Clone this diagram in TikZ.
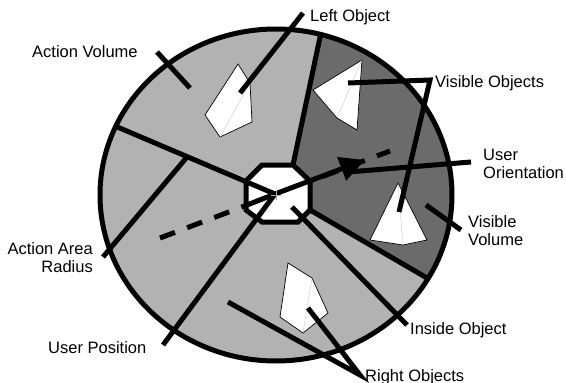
\documentclass[tikz,border=0pt]{standalone}
\usepackage{fontspec}
\setmainfont{Liberation Sans}
\usetikzlibrary{arrows.meta}
\definecolor{lightsec}{gray}{0.70}
\definecolor{darksec}{gray}{0.42}
\begin{document}
\begin{tikzpicture}[x=1pt,y=-1pt,
  thickline/.style={line width=5pt},
  objshape/.style={fill=white,draw=black,line width=0.7pt,line join=miter},
  objedge/.style={draw=black!22,line width=0.4pt},
  lbl/.style={font=\fontsize{16.5}{18}\selectfont,inner sep=0pt}]
\useasboundingbox (0,0) rectangle (566,383);
% key points
\coordinate (C) at (275,194);
\coordinate (Ec) at (276,195);
% octagon corners
\coordinate (O1) at (262,165);
\coordinate (O2) at (293,165);
\coordinate (O3) at (310,181);
\coordinate (O4) at (310,210);
\coordinate (O5) at (298,222);
\coordinate (O6) at (262,222);
\coordinate (O7) at (246,210);
\coordinate (O8) at (246,181);
% sector boundary ends on the ellipse
\coordinate (Aend) at (320.5,35);
\coordinate (Bend) at (115,126);
\coordinate (Eend) at (427,278);
% sectors
\begin{scope}
  \clip (Ec) ellipse [x radius=176pt, y radius=166pt];
  \fill[lightsec] (0,0) rectangle (566,383);
  \fill[darksec] (O2) -- (330,-10) -- (520,-10) -- (520,332) -- (O4) -- cycle;
\end{scope}
% objects
\draw[objshape] (238,64) coordinate (L1) -- (250,83) coordinate (L2) -- (252,122) -- (220,137) coordinate (L4) -- (205,115) -- cycle;
\draw[objedge] (L2) -- (L4);
\draw[objshape] (362,60) coordinate (T1) -- (357,130) -- (337,118) coordinate (T3) -- (313,90) -- cycle;
\draw[objedge] (T1) -- (T3);
\draw[objshape] (398,183) coordinate (R1) -- (370,240) -- (403,245) coordinate (R3) -- (427,240) -- cycle;
\draw[objedge] (R1) -- (R3);
\draw[objshape] (288,263) -- (312,278) coordinate (B2) -- (328,313) -- (303,333) coordinate (B4) -- (280,317) -- cycle;
\draw[objedge] (B2) -- (B4);
% sector lines
\draw[thickline] (O2) -- (Aend);
\draw[thickline] (O4) -- (Eend);
% ellipse outline
\draw[thickline] (Ec) ellipse [x radius=176pt, y radius=166pt];
% dashed radius line
\coordinate (D1) at (160,238);
\coordinate (D2) at (390,151);
\draw[thickline,dash pattern=on 16pt off 13pt] (D1) -- (D2);
% octagon
\draw[thickline,fill=white,line join=miter] (O1) -- (O2) -- (O3) -- (O4) -- (O5) -- (O6) -- (O7) -- (O8) -- cycle;
% lines meeting at the centre
\draw[thickline] (Bend) -- (C);
\coordinate (DO) at (247,205);
\draw[thickline] (DO) -- (C);
\coordinate (UP) at (163,345);
\draw[thickline] (C) -- (UP);
\coordinate (Tip) at (365,160);
\draw[thickline,-{Triangle[length=25pt,width=24pt]}] (C) -- (Tip);
% labels
\node[lbl,anchor=base west] (lAV) at (32,57) {Action Volume};
\node[lbl,anchor=base west] (lLO) at (310,21) {Left Object};
\node[lbl,anchor=base west] (lVO) at (435,87) {Visible Objects};
\node[lbl,anchor=base west,align=left] (lUO) at (483,178) {User\\Orientation};
\node[lbl,anchor=base west,align=left] (lVV) at (468,245) {Visible\\Volume};
\node[lbl,anchor=base west] (lIO) at (410,334) {Inside Object};
\node[lbl,anchor=base west] (lRO) at (365,381) {Right Objects};
\node[lbl,anchor=base west] (lUP) at (48,353) {User Position};
\node[lbl,anchor=base east,align=right] (lAR) at (93,272) {Action Area\\Radius};
% pointers
\coordinate (pAV1) at (157,52);
\coordinate (pAV2) at (190,88);
\draw[thickline] (pAV1) -- (pAV2);
\coordinate (pLO1) at (240,93);
\coordinate (pLO2) at (303,13);
\draw[thickline] (pLO1) -- (pLO2);
\coordinate (pVO1) at (348,83);
\coordinate (pVO2) at (430,80);
\coordinate (pVO3) at (399,212);
\draw[thickline,line join=miter] (pVO1) -- (pVO2) -- (pVO3);
\coordinate (pUO1) at (348,172);
\coordinate (pUO2) at (471,162);
\draw[thickline] (pUO1) -- (pUO2);
\coordinate (pVV1) at (426,205);
\coordinate (pVV2) at (461,230);
\draw[thickline] (pVV1) -- (pVV2);
\coordinate (pIO1) at (292,207);
\coordinate (pIO2) at (407,325);
\draw[thickline] (pIO1) -- (pIO2);
\coordinate (pRO1) at (228,302);
\coordinate (pRO2) at (360,375);
\coordinate (pRO3) at (308,308);
\draw[thickline,line join=miter] (pRO1) -- (pRO2) -- (pRO3);
\coordinate (pAR1) at (187,157);
\coordinate (pAR2) at (103,257);
\draw[thickline] (pAR1) -- (pAR2);
% centre cross
\draw[black!35,line width=0.5pt] (271,195) -- (281,195) (276,190) -- (276,200);
\end{tikzpicture}
\end{document}
